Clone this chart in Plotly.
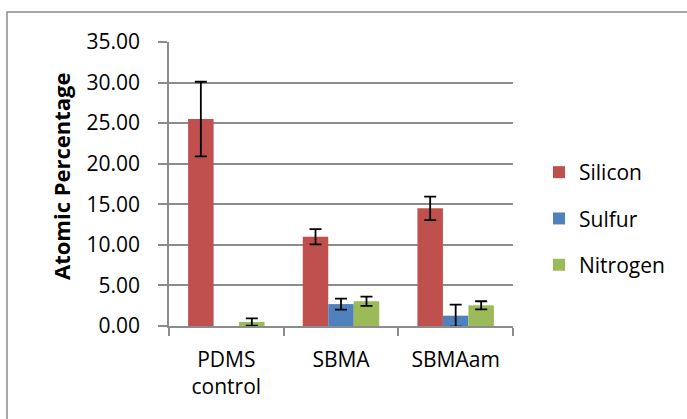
import plotly.graph_objects as go

categories = ["PDMS<br>control", "SBMA", "SBMAam"]
series_names = ["Silicon", "Sulfur", "Nitrogen"]
silicon = [25.5, 11.0, 14.5]
silicon_err = [4.6, 0.95, 1.45]
sulfur = [None, 2.7, 1.27]
sulfur_err = [None, 0.68, 1.36]
nitrogen = [0.5, 3.05, 2.55]
nitrogen_err = [0.45, 0.57, 0.5]
y_ticks = [0, 5, 10, 15, 20, 25, 30, 35]
colors = ["#C0504D", "#4F81BD", "#9BBB59"]

font = "'Open Sans', sans-serif"
fig = go.Figure()
for name, vals, errs, col in zip(series_names, [silicon, sulfur, nitrogen],
                                 [silicon_err, sulfur_err, nitrogen_err], colors):
    fig.add_trace(go.Bar(
        x=categories, y=vals, name=name, marker_color=col,
        marker_line_width=0, legendgroup=name,
        error_y=dict(type="data", array=errs, visible=True, color="black",
                     thickness=1.8, width=6),
    ))

L, R, T, B = 169, 513, 42, 326
W, H = 687, 419
pw, ph = R - L, B - T
def px(x):
    return (x - L) / pw
def py(y):
    return (B - y) / ph

fig.add_shape(type="rect", xref="paper", yref="paper",
              x0=px(7), x1=px(700), y0=py(12), y1=py(440),
              line=dict(color="#8c8c8c", width=1.5), fillcolor="rgba(0,0,0,0)",
              layer="below")

fig.add_annotation(text="<b>Atomic Percentage</b>", xref="paper", yref="paper",
                   x=px(61), y=py(176), xanchor="center", yanchor="middle",
                   textangle=-90, showarrow=False,
                   font=dict(family=font, size=22, color="black"))

fig.update_layout(
    width=W, height=H,
    margin=dict(l=L, r=W - R, t=T, b=H - B),
    paper_bgcolor="white", plot_bgcolor="white",
    barmode="group", bargap=0.333, bargroupgap=0,
    font=dict(family=font, size=21, color="black"),
    showlegend=True,
    legend=dict(x=px(539), y=py(152), xanchor="left", yanchor="top",
                font=dict(size=21), itemwidth=30, tracegroupgap=16,
                bgcolor="rgba(0,0,0,0)"),
    xaxis=dict(showline=True, linecolor="#8c8c8c", linewidth=1.5,
               ticks="outside", ticklen=8, tickcolor="#8c8c8c", tickwidth=1.5,
               tickson="boundaries", showgrid=False, ticklabelstandoff=14,
               tickfont=dict(size=21)),
    yaxis=dict(range=[0, 35], tickvals=y_ticks,
               ticktext=[f"{v:.2f}" for v in y_ticks],
               showline=True, linecolor="#8c8c8c", linewidth=1.5,
               ticks="outside", ticklen=9, tickcolor="#8c8c8c", tickwidth=1.5,
               showgrid=True, gridcolor="#8c8c8c", gridwidth=1.5,
               zeroline=False, ticklabelstandoff=14,
               tickfont=dict(size=21)),
)

fig.write_html("out.html")
